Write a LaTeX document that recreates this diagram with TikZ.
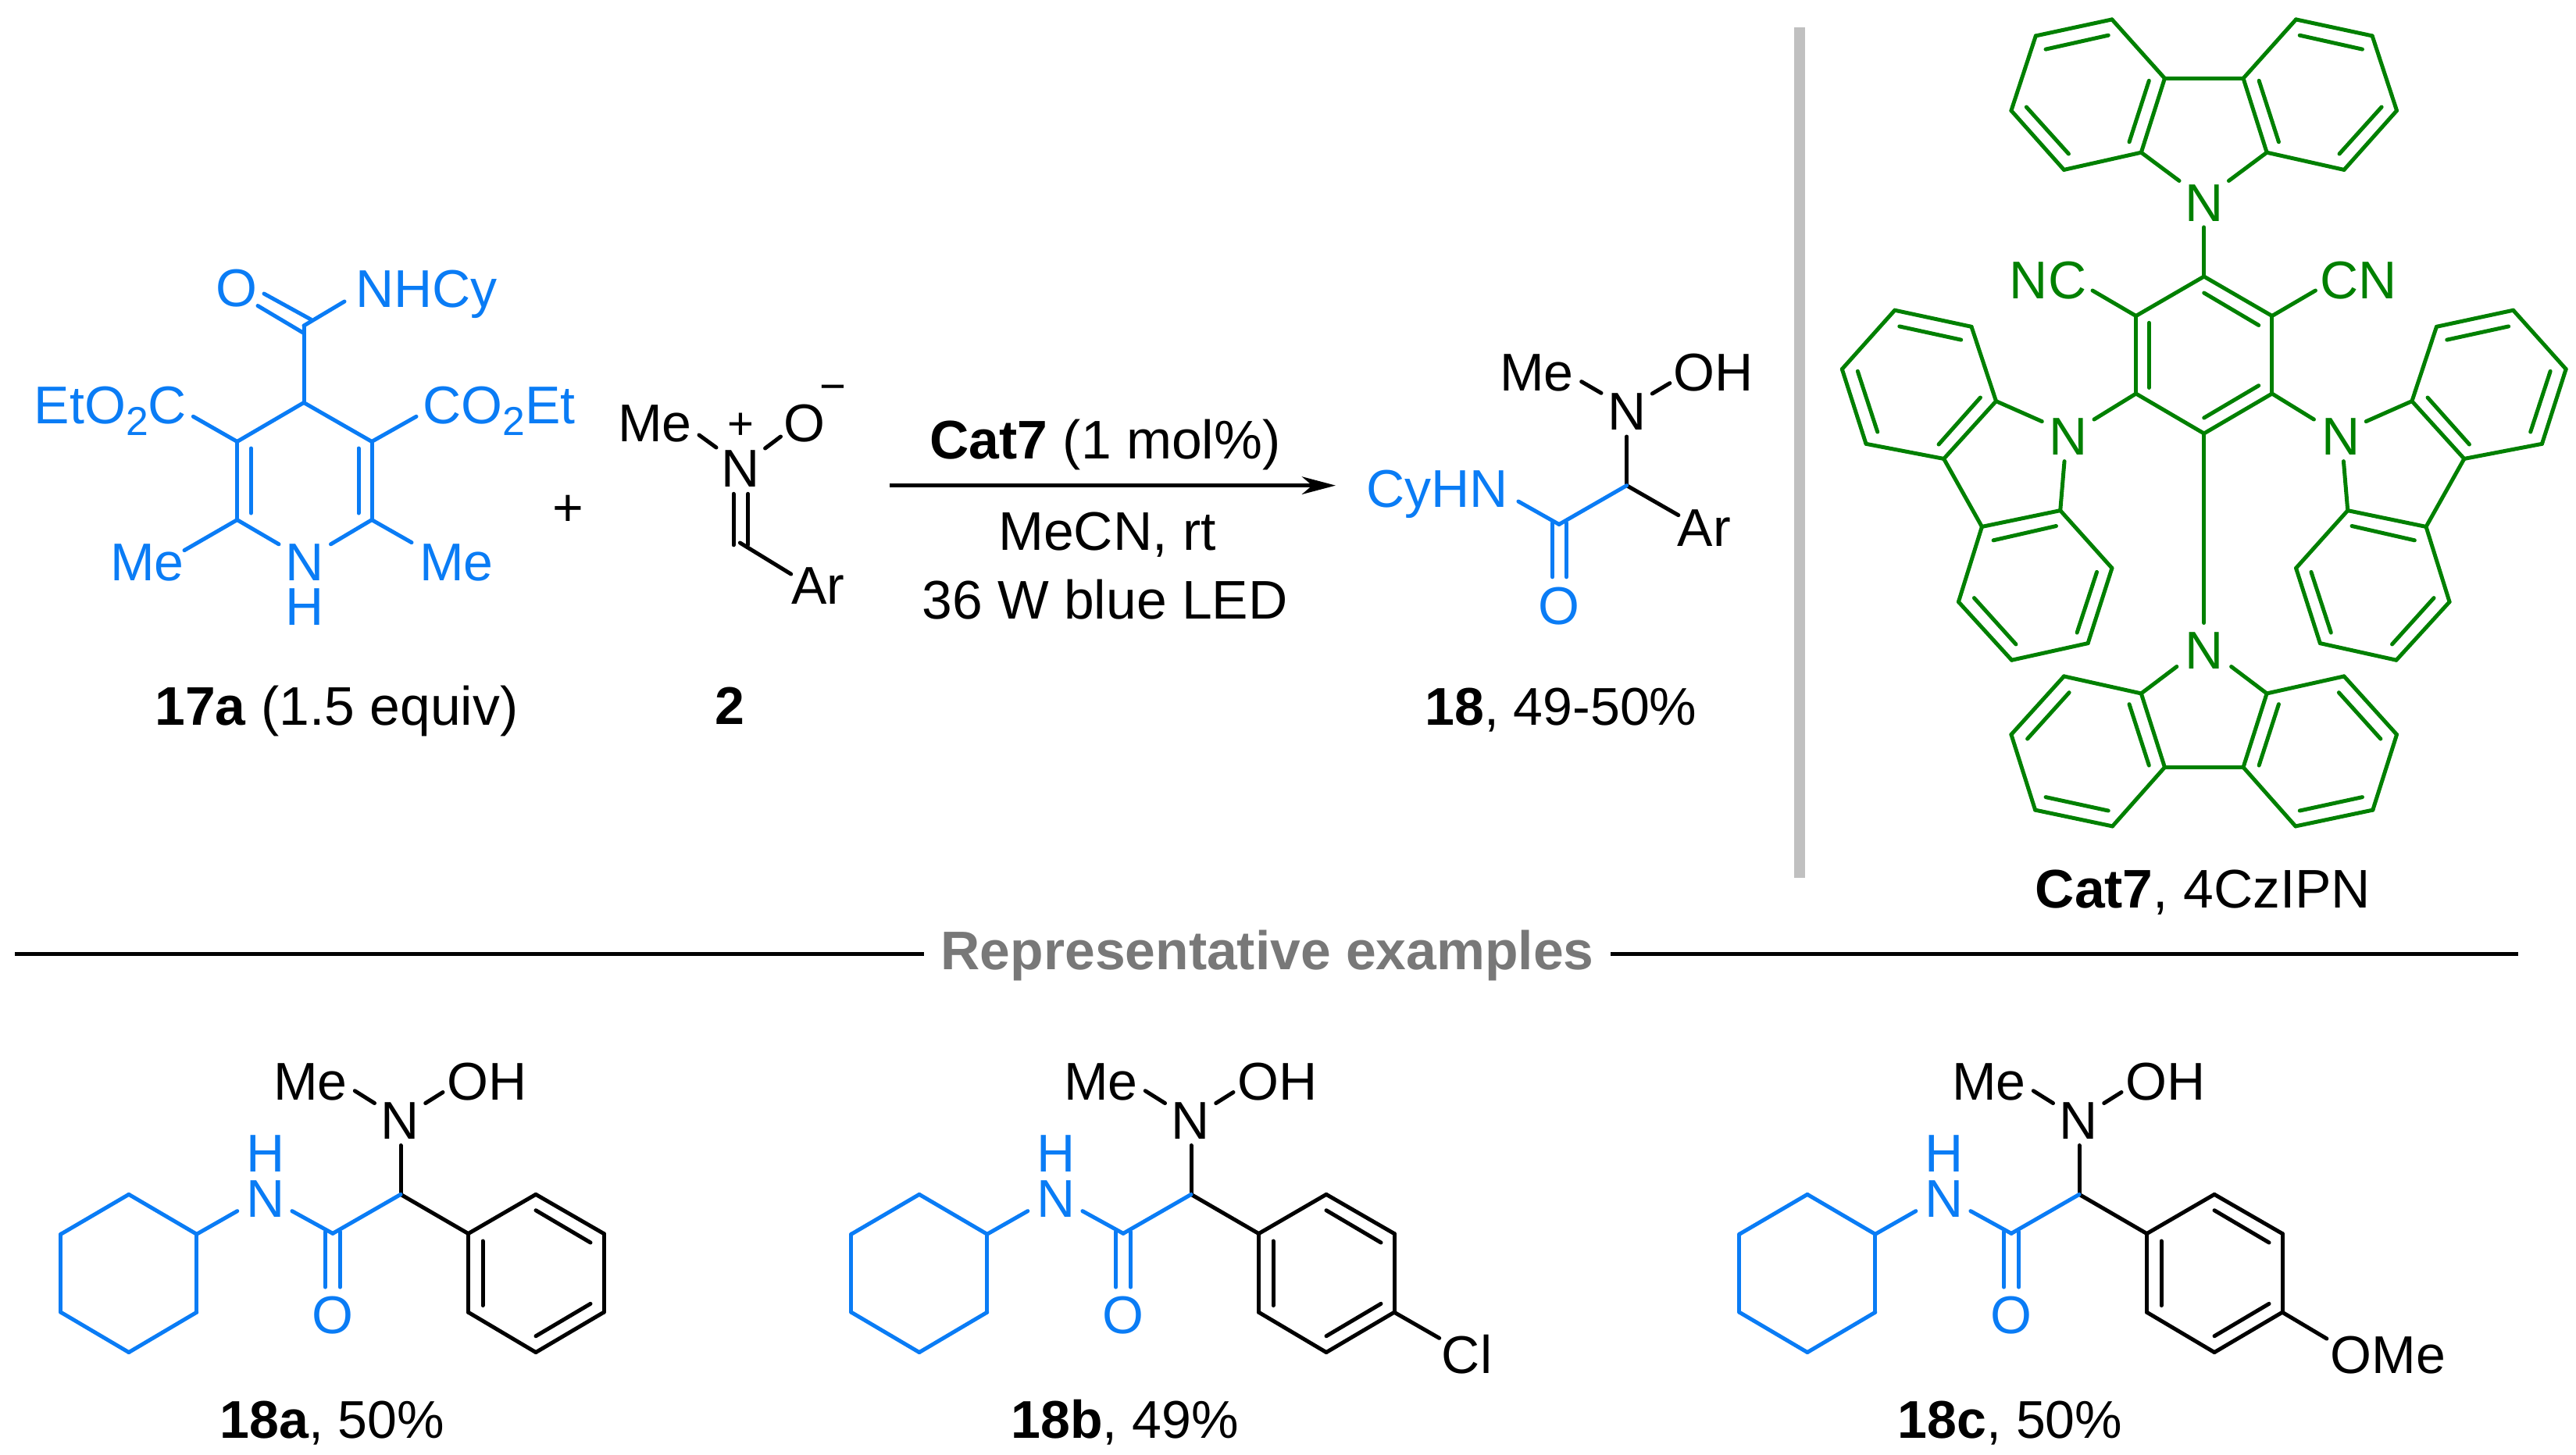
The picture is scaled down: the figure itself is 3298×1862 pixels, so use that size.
\documentclass[tikz,border=0pt]{standalone}
\usepackage{fontspec}
\setmainfont{Liberation Sans}
\usetikzlibrary{arrows.meta}

\definecolor{amideblue}{HTML}{0A7CF5}
\definecolor{catgreen}{HTML}{008000}
\definecolor{headgrey}{HTML}{787878}
\definecolor{bargrey}{HTML}{C0C0C0}

\newcommand{\subtwo}{\raisebox{-0.15cm}{\fontsize{14.7}{16}\selectfont 2}}
\newcommand{\setpts}[1]{\foreach \nm/\x/\y in {#1} \coordinate (\nm) at (\x,\y);}
\newcommand{\bonds}[2]{\foreach \p/\q in {#2} \draw[bond,#1] (\p) -- (\q);}

\tikzset{
    bond/.style = {line width=0.05cm, line cap=round, line join=round},
    atom/.style = {inner sep=0pt, anchor=base, font=\fontsize{19.35}{22}\selectfont},
    bluatom/.style = {atom, text=amideblue},
    grnatom/.style = {atom, text=catgreen},
    capt/.style = {atom, font=\fontsize{19.8}{22}\selectfont},
    charge/.style = {atom, font=\fontsize{16.5}{18}\selectfont},
    rulez/.style = {line width=0.05cm},
}

\begin{document}
\begin{tikzpicture}[x=0.01cm, y=-0.01cm]
    \useasboundingbox (0,0) rectangle (3298,1862);

    % 17a
    \setpts{d1/389/515.5, d2/303.6/565.4, d3/303.6/665.6, d4/357/696.8, d5/423.5/696.8, d6/476/665.6, d7/476/565.4,
        d8/389/417, d9/441/386, d10/338/376, d11/398/409, d12/330/391.5, d13/389/426.6,
        d14/247.4/533.3, d15/533/533.3, d16/236/704.6, d17/527/694.6,
        d18/321.4/574, d19/321.4/657, d20/459/574, d21/459/657}
    \bonds{amideblue}{d1/d2, d2/d3, d3/d4, d5/d6, d6/d7, d7/d1, d1/d8, d8/d9, d10/d11, d12/d13,
        d2/d14, d7/d15, d3/d16, d6/d17, d18/d19, d20/d21}
    \node[bluatom] (do) at (303,392) {O};
    \node[bluatom] (dnhcy) at (546,393) {NHCy};
    \node[bluatom] (dester1) at (141.5,542.8) {EtO\subtwo C};
    \node[bluatom] (dester2) at (639,542.8) {CO\subtwo Et};
    \node[bluatom] (dme1) at (188.5,743) {Me};
    \node[bluatom] (dme2) at (584.5,743) {Me};
    \node[bluatom] (dn) at (390,743) {N};
    \node[bluatom] (dh) at (390,800.9) {H};
    \node[capt] (dlabel) at (431,928) {\textbf{17a} (1.5 equiv)};
    \node[atom] (plus) at (727,673) {+};

    % nitrone 2
    \setpts{n1/895/557, n2/917/573, n3/979.6/574, n4/999.5/559, n5/939/632.3, n6/939/697.8,
        n7/957.6/632.3, n8/957.6/697.8, n9/947.4/695, n10/1012.7/735}
    \bonds{black}{n1/n2, n3/n4, n5/n6, n7/n8, n9/n10}
    \node[atom] (nme) at (838.5,565.4) {Me};
    \node[atom] (nn) at (948,623) {N};
    \node[charge] (nplus) at (948.5,562) {+};
    \node[atom] (no) at (1029.5,565.4) {O};
    \node[charge] (nminus) at (1066.5,514.5) {−};
    \node[atom] (nar) at (1047.5,773.7) {Ar};
    \node[atom] (nlabel) at (934.5,927) {\textbf{2}};

    % arrow
    \coordinate (arrowstart) at (1139,621.6);
    \coordinate (arrowend) at (1710,621.6);
    \draw[rulez, -{Stealth[length=0.43cm, width=0.225cm, inset=0.13cm]}] (arrowstart) -- (arrowend);
    \node[capt] (cond1) at (1415,587) {\textbf{Cat7} (1 mol\%)};
    \node[capt] (cond2) at (1417.5,704) {MeCN, rt};
    \node[capt] (cond3) at (1414.5,792) {36 W blue LED};

    % product 18
    \setpts{p1/2082.6/621.6, p2/1996/671.4, p3/1943.9/642, p4/2082.6/559, p5/2148.8/659.6,
        p6/2024.7/488.6, p7/2050/503.3, p8/2115.3/504, p9/2137.8/490.6,
        p10/1987.5/669.4, p11/1987.5/738.8, p12/2005.5/669.4, p13/2005.5/738.8}
    \bonds{black}{p1/p4, p1/p5, p6/p7, p8/p9}
    \bonds{amideblue}{p1/p2, p2/p3, p10/p11, p12/p13}
    \node[atom] (pme) at (1967.5,500) {Me};
    \node[atom] (poh) at (2193.5,500) {OH};
    \node[atom] (pn) at (2082.6,550) {N};
    \node[bluatom] (pcyhn) at (1840.3,649) {CyHN};
    \node[atom] (par) at (2181.7,699) {Ar};
    \node[bluatom] (po) at (1996,799) {O};
    \node[atom] (plabel) at (1998.5,928.6) {\textbf{18}, 49-50\%};

    % grey bar
    \coordinate (bartop) at (2304,35);
    \coordinate (barbot) at (2304,1124);
    \draw[bargrey, line width=0.14cm] (bartop) -- (barbot);

    % Cat7, both halves of the molecule
    \foreach \s/\sx in {l/1, r/-1} {
        \begin{scope}[shift={(2821.7,0)}, xscale=\sx]
            \setpts{\s t1/-50.3/100.3, \s t2/-117.8/24.9, \s t3/-215.4/45.9, \s t4/-246.8/141.6, \s t5/-179.3/217.4,
                \s t6/-80.4/195.2, \s t7/-31.7/231.5,
                \s ti1/-70.4/103.3, \s ti2/-95.7/181.8, \s ti3/-122.5/45.2, \s ti4/-202.7/63.1, \s ti5/-227.4/137, \s ti6/-173.3/197}
            \bonds{catgreen}{\s t1/\s t2, \s t2/\s t3, \s t3/\s t4, \s t4/\s t5, \s t5/\s t6, \s t6/\s t1, \s t6/\s t7,
                \s ti1/\s ti2, \s ti3/\s ti4, \s ti5/\s ti6}
            \setpts{\s b1/-50.3/982.4, \s b2/-117.2/1057.9, \s b3/-216.1/1037.1, \s b4/-246.8/940.5, \s b5/-179.3/865.9,
                \s b6/-80.4/887.9, \s b7/-34.9/853.5,
                \s bi1/-95.7/901.6, \s bi2/-70.4/980, \s bi3/-172.6/886.7, \s bi4/-226.1/946, \s bi5/-202.7/1020.6, \s bi6/-122.5/1038}
            \bonds{catgreen}{\s b1/\s b2, \s b2/\s b3, \s b3/\s b4, \s b4/\s b5, \s b5/\s b6, \s b6/\s b1, \s b6/\s b7,
                \s bi1/\s bi2, \s bi3/\s bi4, \s bi5/\s bi6}
            \setpts{\s s1/-266.2/513.6, \s s2/-297.7/418.3, \s s3/-395.9/397.2, \s s4/-463.4/472.6, \s s5/-432.7/568.3,
                \s s6/-333.1/587.4, \s s7/-284.3/674.4, \s s8/-184/653.6, \s s9/-117.8/727.4, \s s10/-148.6/823.6,
                \s s11/-246.2/845.2, \s s12/-314.3/770.6, \s s13/-207.4/539.6, \s s14/-178.7/590.6,
                \s si1/-389.9/417.9, \s si2/-311/435.1, \s si3/-443.4/475.3, \s si4/-418/553, \s si5/-286.3/509, \s si6/-339.7/569,
                \s si7/-269.6/691.8, \s si8/-189.3/673.5, \s si9/-137.2/732.4, \s si10/-162.6/810, \s si11/-240.8/824.9, \s si12/-294.3/765.6}
            \bonds{catgreen}{\s s1/\s s2, \s s2/\s s3, \s s3/\s s4, \s s4/\s s5, \s s5/\s s6, \s s6/\s s1, \s s6/\s s7,
                \s s7/\s s8, \s s8/\s s9, \s s9/\s s10, \s s10/\s s11, \s s11/\s s12, \s s12/\s s7, \s s1/\s s13, \s s8/\s s14,
                \s si1/\s si2, \s si3/\s si4, \s si5/\s si6, \s si7/\s si8, \s si9/\s si10, \s si11/\s si12}
            \setpts{\s c1/0/354, \s c2/-87.1/404.5, \s c3/-87.1/504, \s c4/0/555, \s c5/-142.7/372, \s c6/-140.7/537}
            \bonds{catgreen}{\s c1/\s c2, \s c2/\s c3, \s c3/\s c4, \s c2/\s c5, \s c3/\s c6}
        \end{scope}
    }
    \setpts{k1/2821.7/290.9, k2/2821.7/797.5, k3/2751.3/413.3, k4/2751.3/496.4, k5/2821.7/375, k6/2891.7/416.4,
        k7/2891.7/493.7, k8/2821.7/535}
    \bonds{catgreen}{lt1/rt1, lb1/rb1, lc1/k1, lc4/k2, k3/k4, k5/k6, k7/k8}
    \node[grnatom] (kntop) at (2821.7,283) {N};
    \node[grnatom] (knleft) at (2647.7,582.9) {N};
    \node[grnatom] (knright) at (2996.6,582.9) {N};
    \node[grnatom] (knbot) at (2821.7,856.8) {N};
    \node[grnatom] (kcn1) at (2622,382.7) {NC};
    \node[grnatom] (kcn2) at (3019.2,382.7) {CN};
    \node[capt] (klabel) at (2820.5,1162.8) {\textbf{Cat7}, 4CzIPN};

    % heading and its two rules
    \node[atom, inner xsep=0.21cm, text=headgrey, font=\fontsize{19.8}{22}\selectfont\bfseries] (heading) at (1622.7,1241) {Representative examples};
    \coordinate (ruleleft) at (19,1221.3);
    \coordinate (ruleright) at (3224,1221.3);
    \draw[rulez] (ruleleft) -- (ruleleft -| heading.west);
    \draw[rulez] (heading.east |- ruleright) -- (ruleright);

    % examples 18a-c
    \foreach \m/\dx/\lx/\yld in {a/0/425.4/50, b/1012/428/49, c/2149/424.5/50} {
        \begin{scope}[xshift=\dx*0.01cm]
            \setpts{\m1/164.9/1529.3, \m2/251.8/1580.2, \m3/251.8/1680.2, \m4/164.9/1731.5, \m5/77.9/1680.2, \m6/77.9/1580.2,
                \m7/303.8/1550.6, \m8/373.9/1550.6, \m9/426/1579.3, \m10/513/1529.3,
                \m11/416.5/1577, \m12/416.5/1648, \m13/435.5/1577, \m14/435.5/1648,
                \m15/513/1466.5, \m16/454.3/1396.7, \m17/479.5/1412.5, \m18/544.7/1412.5, \m19/567/1398.5,
                \m p1/599.5/1579.5, \m p2/686/1529.3, \m p3/773/1579.5, \m p4/773/1680.2, \m p5/686/1731.5, \m p6/599.5/1680.2,
                \m i1/686/1549.7, \m i2/756/1591, \m i3/618/1589, \m i4/618/1671.5, \m i5/686/1710.7, \m i6/756/1669.3}
            \bonds{black}{\m10/\m15, \m10/\m p1, \m16/\m17, \m18/\m19,
                \m p1/\m p2, \m p2/\m p3, \m p3/\m p4, \m p4/\m p5, \m p5/\m p6, \m p6/\m p1, \m i1/\m i2, \m i3/\m i4, \m i5/\m i6}
            \bonds{amideblue}{\m1/\m2, \m2/\m3, \m3/\m4, \m4/\m5, \m5/\m6, \m6/\m1, \m2/\m7, \m8/\m9, \m9/\m10, \m11/\m12, \m13/\m14}
            \node[bluatom] (\m nh) at (340,1558.4) {N};
            \node[bluatom] (\m h) at (340,1500.6) {H};
            \node[bluatom] (\m o) at (426,1707.5) {O};
            \node[atom] (\m n) at (512.5,1458.6) {N};
            \node[atom] (\m me) at (397.5,1408.5) {Me};
            \node[atom] (\m oh) at (623.5,1408.5) {OH};
            \node[atom] (\m label) at (\lx,1841) {\textbf{18\m}, \yld\%};
        \end{scope}
    }
    \coordinate (clend) at (1842.7,1713.3);
    \coordinate (omeend) at (2978.8,1714);
    \bonds{black}{bp4/clend, cp4/omeend}
    \node[atom] (cl) at (1878,1758.3) {Cl};
    \node[atom] (ome) at (3057.5,1758) {OMe};
\end{tikzpicture}
\end{document}
